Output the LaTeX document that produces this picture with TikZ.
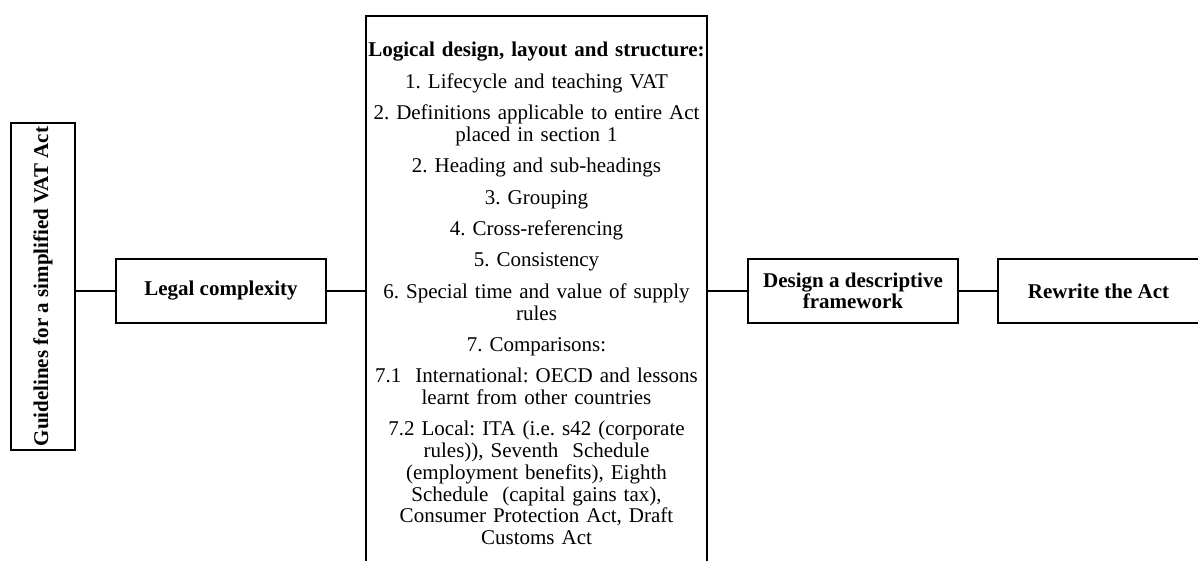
\documentclass[tikz,border=0pt]{standalone}
\usepackage{fontspec}
\setmainfont{Liberation Serif}
\usetikzlibrary{positioning}
\frenchspacing

\begin{document}
\begin{tikzpicture}[x=1pt,y=1pt,
 blk/.style={draw,line width=2.5pt,font=\fontsize{21}{21}\selectfont\bfseries,align=center,minimum height=64,inner sep=0pt},
 link/.style={line width=2.5pt}]
 \useasboundingbox(0,0)rectangle(1198,560);
 % rotated box: its south side faces right
 \node[blk,rotate=90,minimum width=327](aim)at(43,273.5){Guidelines for a simplified VAT Act};
 \node[blk,minimum width=210](legal)at(221,269){Legal complexity};
 % tall list box, its foot runs off the page
 \node[draw,line width=2.5pt,anchor=north,text width=338,inner xsep=1.5,inner ysep=26,align=center,
  font=\fontsize{21}{21.7}\selectfont](logic)at(536.5,545){\textbf{Logical design, layout and structure:}\\[9.7pt]
  1. Lifecycle and teaching VAT\\[9.7pt]
  2. Definitions applicable to entire Act\\placed in section 1\\[9.7pt]
  2. Heading and sub-headings\\[9.7pt]
  3. Grouping\\[9.7pt]
  4. Cross-referencing\\[9.7pt]
  5. Consistency\\[9.7pt]
  6. Special time and value of supply\\rules\\[9.7pt]
  7. Comparisons:\\[9.7pt]
  7.1\ \ International: OECD and lessons\\learnt from other countries\\[9.7pt]
  7.2 Local: ITA (i.e. s42 (corporate\\rules)), Seventh\ \ Schedule\\(employment benefits), Eighth\\
  Schedule\ \ (capital gains tax),\\Consumer Protection Act, Draft\\Customs Act};
 \node[blk,minimum width=210](frame)at(853,269){Design a descriptive\\framework};
 \node[blk,minimum width=201](act)at(1098.5,269){Rewrite the Act};
 \draw[link](aim.south|-legal)--(legal);
 \draw[link](legal)--(legal-|logic.west);
 \draw[link](logic.east|-frame)--(frame);
 \draw[link](frame)--(act);
\end{tikzpicture}
\end{document}
